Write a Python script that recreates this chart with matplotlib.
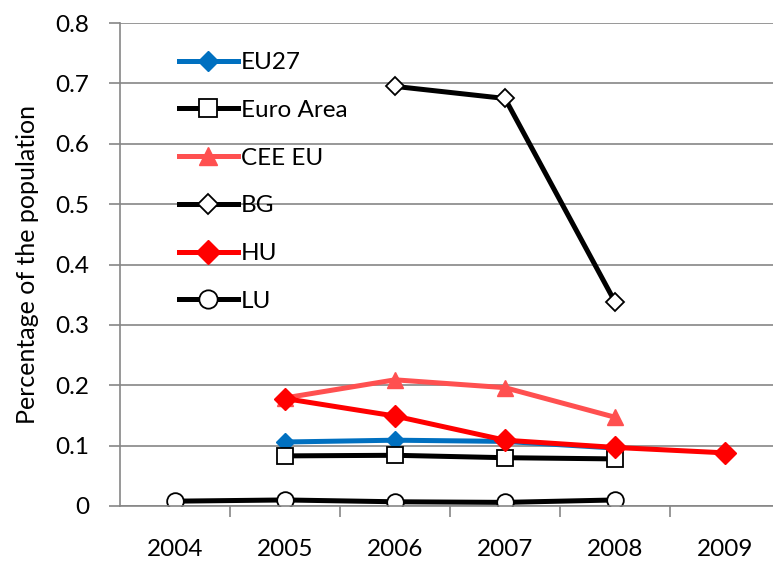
import numpy as np
import matplotlib.pyplot as plt

years = ["2004", "2005", "2006", "2007", "2008", "2009"]
nan = np.nan
eu27 = [nan, 0.106, 0.109, 0.107, 0.096, nan]
euro_area = [nan, 0.083, 0.084, 0.080, 0.078, nan]
cee_eu = [nan, 0.179, 0.209, 0.196, 0.147, nan]
bg = [nan, nan, 0.695, 0.675, 0.338, nan]
hu = [nan, 0.178, 0.149, 0.109, 0.097, 0.088]
lu = [0.008, 0.010, 0.007, 0.006, 0.010, nan]

plt.rcParams['font.family'] = ['Lato', 'DejaVu Sans']

fig = plt.figure(figsize=(7.73, 5.61), dpi=100)
ax = fig.add_axes([120 / 773, 1 - 506 / 561, 660 / 773, 483 / 561])

x = np.arange(len(years))
lw = 3.6
ax.plot(x, eu27, color='#0070c0', lw=lw, marker='D', ms=9, label='EU27')
ax.plot(x, euro_area, color='black', lw=lw, marker='s', ms=12, mfc='white', mec='black', mew=1.3, label='Euro Area')
ax.plot(x, cee_eu, color='#ff5050', lw=lw, marker='^', ms=12, label='CEE EU')
ax.plot(x, bg, color='black', lw=lw, marker='D', ms=9, mfc='white', mec='black', mew=1.3, label='BG')
ax.plot(x, hu, color='#ff0000', lw=lw, marker='D', ms=11, label='HU')
ax.plot(x, lu, color='black', lw=lw, marker='o', ms=12, mfc='white', mec='black', mew=1.3, label='LU')

ax.set_xlim(-0.5, 5.5)
ax.set_ylim(0, 0.8)
ax.set_yticks(np.arange(0, 0.81, 0.1))
ax.set_yticklabels(['0'] + [f'{v:.1f}' for v in np.arange(0.1, 0.81, 0.1)])
ax.set_xticks(x)
ax.set_xticklabels(years)
ax.set_xticks(np.arange(0.5, 5.5, 1), minor=True)
ax.tick_params(axis='x', which='major', length=0, pad=24, labelsize=17.5)
ax.tick_params(axis='x', which='minor', length=8, width=1.2, color='#868686', direction='out')
ax.tick_params(axis='y', length=8, width=1.2, color='#868686', labelsize=17.5, pad=14)
ax.grid(axis='y', color='#868686', lw=1.2)
ax.set_axisbelow(True)
for s in ['top', 'right']:
    ax.spines[s].set_visible(False)
ax.spines['left'].set_color('#868686')
ax.spines['left'].set_linewidth(1.2)
ax.spines['bottom'].set_color('#868686')
ax.spines['bottom'].set_linewidth(1.2)
ax.set_ylabel('Percentage of the population', fontsize=18, labelpad=12)

leg = ax.legend(loc='upper left', bbox_to_anchor=(0.075, 0.96), frameon=False, fontsize=17.5,
                labelspacing=1.1, handlelength=2.4, handletextpad=0.15, borderaxespad=0,
                markerscale=1.1)

fig.savefig('out.png', dpi=100)
